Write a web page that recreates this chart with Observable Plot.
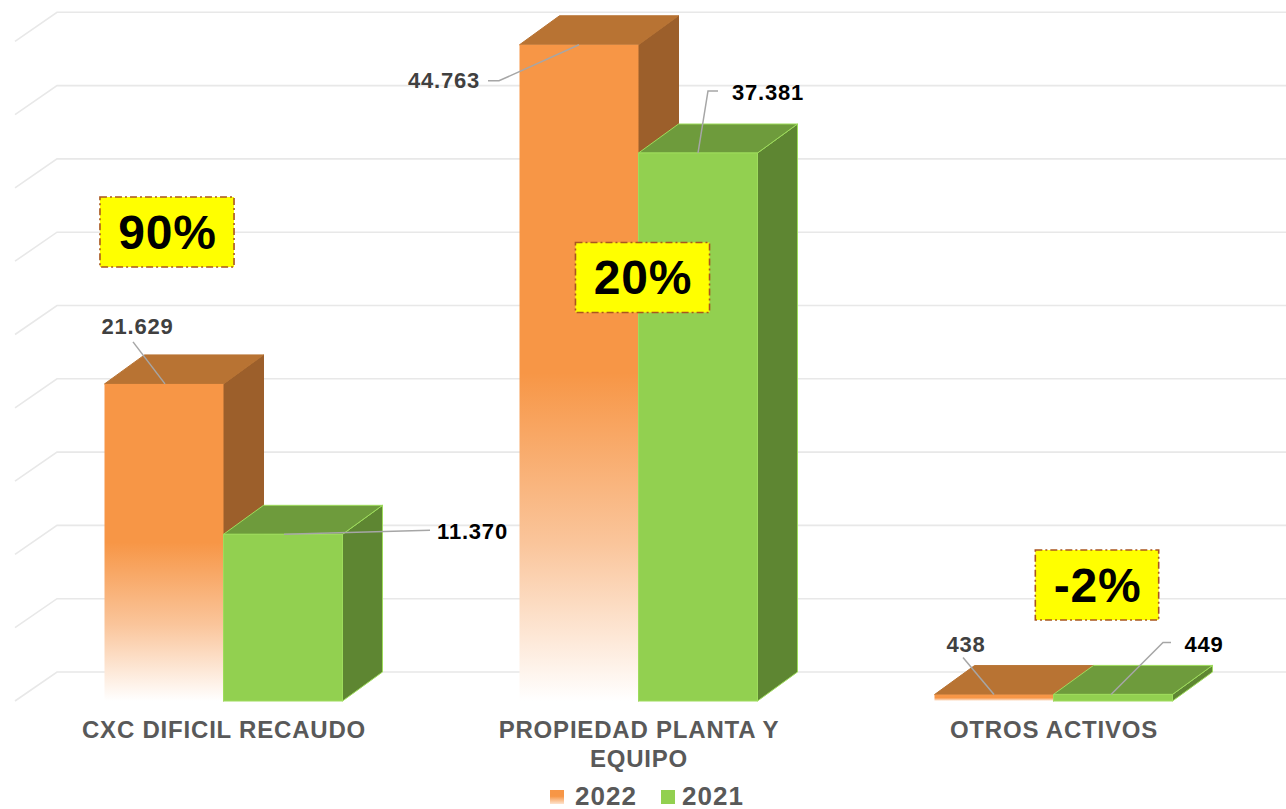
<!DOCTYPE html>
<html>
<head>
<meta charset="utf-8">
<script src="https://cdn.jsdelivr.net/npm/d3@7"></script>
<script src="https://cdn.jsdelivr.net/npm/@observablehq/plot@0.6"></script>
<style>
  html, body { margin: 0; padding: 0; background: #ffffff; }
  body { width: 1286px; height: 809px; position: relative; overflow: hidden;
         font-family: "Liberation Sans", Arial, Helvetica, sans-serif; }
  #chart { position: absolute; left: 0; top: 0; }
  #chart svg text { letter-spacing: 0.8px; }
  #legend { position: absolute; left: 0; top: 781px; width: 1286px; height: 28px; }
  .sw { position: absolute; width: 14px; height: 14px; top: 9px; }
  .lt { position: absolute; top: 0; font-weight: bold; font-size: 26px; color: #595959;
        letter-spacing: 1px; line-height: normal; }
</style>
</head>
<body>
<svg width="0" height="0" style="position:absolute">
  <defs>
    <linearGradient id="grad2022" x1="0" y1="0" x2="0" y2="1">
      <stop offset="0" stop-color="#F79646"/>
      <stop offset="0.5" stop-color="#F79646"/>
      <stop offset="0.76" stop-color="#FAC59B"/>
      <stop offset="1" stop-color="#FFFFFF"/>
    </linearGradient>
  </defs>
</svg>
<div id="chart"></div>
<div id="legend"></div>
<script>
// ---------- data ----------
const categories = ["CXC DIFICIL RECAUDO", "PROPIEDAD PLANTA Y EQUIPO", "OTROS ACTIVOS"];
const tickLabels = ["CXC DIFICIL RECAUDO", "PROPIEDAD PLANTA Y\nEQUIPO", "OTROS ACTIVOS"];
const seriesNames = ["2022", "2021"];
const values2022 = [21629, 44763, 438];
const values2021 = [11370, 37381, 449];
const changeLabels = ["90%", "20%", "-2%"];
const gridTicks = [0, 5000, 10000, 15000, 20000, 25000, 30000, 35000, 40000, 45000];

// ---------- layout / style ----------
const W = 1286, H = 775;
const X0 = 16, X1 = 1261;          // x band range
const Y0 = 701, Y1 = 41.3;         // y range for [0, 45000]
const BW = (X1 - X0) / categories.length;
const BAR = 119;                   // bar width (px)
const DX = 40, DY = 29;            // 3D depth of bars
const GDX = 42;                    // depth of gridline floor diagonal
const colors = {
  "2022": {front: "url(#grad2022)", top: "#B87333", side: "#9C5F2B", edge: "none", label: "#404040"},
  "2021": {front: "#92D050", top: "#6E9B3C", side: "#5E8632", edge: "#9EDC5C", label: "#000000"}
};
// label offsets (text center relative to band center / value) and leader polylines (relative to bar top-center)
const labelLayout = {
  "2022": [
    {dx: -86.5, dy: -57, leader: [[1, 0], [-31, -42]]},
    {dx: -195, dy: 36, leader: [[0, 0], [-80, 36], [-91, 36]]},
    {dx: -88, dy: -50, leader: [[0, 0], [-31, -37]]}
  ],
  "2021": [
    {dx: 248.5, dy: -3, leader: [[1, 0], [147, -4]]},
    {dx: 129, dy: -60.5, leader: [[0, 0], [10, -62], [20, -62]]},
    {dx: 150, dy: -50, leader: [[-2, 0], [50, -52], [58, -52]]}
  ]
};
const boxLayout = [{dx: -56.5, y: 31990}, {dx: 4, y: 28890}, {dx: 43.5, y: 7910}];

const fmt = d3.formatLocale({decimal: ",", thousands: ".", grouping: [3], currency: ["$", ""]}).format(",");

const rows = categories.flatMap((c, i) => [
  {category: c, series: "2022", value: values2022[i], i},
  {category: c, series: "2021", value: values2021[i], i}
]);

function barLeft(sx, d) {
  const bw = sx.bandwidth ? sx.bandwidth() : BW;
  const c = sx(d.category) + bw / 2;
  return d.series === "2022" ? c - BAR : c;
}

// back-wall gridlines with floor diagonals
function gridMark(index, scales) {
  const sy = scales.y;
  const g = d3.create("svg:g");
  for (const t of gridTicks) {
    const yf = sy(t);
    g.append("path")
      .attr("d", `M${X0 - 1},${yf}L${X0 - 1 + GDX},${yf - DY}L${W},${yf - DY}`)
      .attr("fill", "none").attr("stroke", "#E8E8E8").attr("stroke-width", 1.6);
  }
  return g.node();
}

// top and side faces of the 3D bars of one series
function facesMark(series) {
  return (index, scales) => {
    const sx = scales.x, sy = scales.y;
    const g = d3.create("svg:g");
    const col = colors[series];
    for (const d of rows.filter(r => r.series === series)) {
      const l = barLeft(sx, d), r = l + BAR;
      const t = sy(d.value), b = sy(0);
      g.append("path")
        .attr("d", `M${r},${t}L${r + DX},${t - DY}L${r + DX},${b - DY}L${r},${b}Z`)
        .attr("fill", col.side).attr("stroke", col.edge === "none" ? col.side : col.edge).attr("stroke-width", 1);
      g.append("path")
        .attr("d", `M${l},${t}L${l + DX},${t - DY}L${r + DX},${t - DY}L${r},${t}Z`)
        .attr("fill", col.top).attr("stroke", col.edge === "none" ? col.top : col.edge).attr("stroke-width", 1);
    }
    return g.node();
  };
}

// leader lines from bar top-center to value labels
function leaderMark(index, scales) {
  const sx = scales.x, sy = scales.y;
  const g = d3.create("svg:g");
  for (const d of rows) {
    const cx = barLeft(sx, d) + BAR / 2, cy = sy(d.value);
    const pts = labelLayout[d.series][d.i].leader.map(([ox, oy]) => [cx + ox, cy + oy]);
    g.append("path").attr("d", "M" + pts.map(p => p.join(",")).join("L"))
      .attr("fill", "none").attr("stroke", "#A6A6A6").attr("stroke-width", 1.5);
  }
  return g.node();
}

// yellow percent boxes
const measureCtx = document.createElement("canvas").getContext("2d");
measureCtx.font = "bold 48px 'Liberation Sans', Arial, sans-serif";
function boxMark(index, scales) {
  const sx = scales.x, sy = scales.y;
  const bw = sx.bandwidth ? sx.bandwidth() : BW;
  const g = d3.create("svg:g");
  categories.forEach((c, i) => {
    const cx = sx(c) + bw / 2 + boxLayout[i].dx, cy = sy(boxLayout[i].y);
    const w = measureCtx.measureText(changeLabels[i]).width + 38, h = 70;
    g.append("rect").attr("x", cx - w / 2).attr("y", cy - h / 2).attr("width", w).attr("height", h)
      .attr("fill", "#FFFF00").attr("stroke", "#A9561F").attr("stroke-width", 1.6)
      .attr("stroke-dasharray", "7 3 2 3");
  });
  return g.node();
}

const labelMarks = rows.map(d => Plot.text([d], {
  x: "category", y: "value", text: r => fmt(r.value),
  dx: labelLayout[d.series][d.i].dx, dy: labelLayout[d.series][d.i].dy,
  fill: colors[d.series].label, fontSize: 22, fontWeight: "bold", textAnchor: "middle"
}));

const changeMarks = categories.map((c, i) => Plot.text([{category: c, y: boxLayout[i].y, label: changeLabels[i]}], {
  x: "category", y: "y", text: "label", dx: boxLayout[i].dx, dy: 1,
  fontSize: 48, fontWeight: "bold", fill: "#000000", textAnchor: "middle"
}));

const frontMark = s => Plot.barY(rows.filter(r => r.series === s), {
  x: "category", y: "value",
  insetLeft: s === "2022" ? BW / 2 - BAR : BW / 2,
  insetRight: s === "2022" ? BW / 2 : BW / 2 - BAR,
  fill: colors[s].front,
  stroke: colors[s].edge === "none" ? null : colors[s].edge,
  strokeWidth: 1
});

const chart = Plot.plot({
  width: W, height: H,
  marginLeft: 0, marginRight: 0, marginTop: 0, marginBottom: 0,
  style: {fontFamily: "'Liberation Sans', Arial, Helvetica, sans-serif", background: "#ffffff", overflow: "visible"},
  x: {type: "band", domain: categories, range: [X0, X1], padding: 0, round: false, axis: null},
  y: {type: "linear", domain: [0, 45000], range: [Y0, Y1], axis: null},
  marks: [
    gridMark,
    facesMark("2022"),
    frontMark("2022"),
    facesMark("2021"),
    frontMark("2021"),
    leaderMark,
    ...labelMarks,
    boxMark,
    ...changeMarks,
    Plot.text(categories.map((c, i) => ({category: c, label: tickLabels[i]})), {
      x: "category", y: () => 0, text: "label", dy: 16, lineAnchor: "top", lineHeight: 1.2,
      fontSize: 24, fontWeight: "bold", fill: "#595959", textAnchor: "middle"
    })
  ]
});
document.getElementById("chart").appendChild(chart);

// legend (below the SVG)
const legend = document.getElementById("legend");
const legendItems = [
  {name: seriesNames[0], sw: 550, tx: 575, bg: "linear-gradient(#F79646 0%, #F79646 45%, #FDE3CE 100%)"},
  {name: seriesNames[1], sw: 661, tx: 682, bg: "#92D050"}
];
for (const it of legendItems) {
  const s = document.createElement("div");
  s.className = "sw"; s.style.left = it.sw + "px"; s.style.background = it.bg;
  legend.appendChild(s);
  const t = document.createElement("div");
  t.className = "lt"; t.style.left = it.tx + "px"; t.textContent = it.name;
  legend.appendChild(t);
}
</script>
</body>
</html>
